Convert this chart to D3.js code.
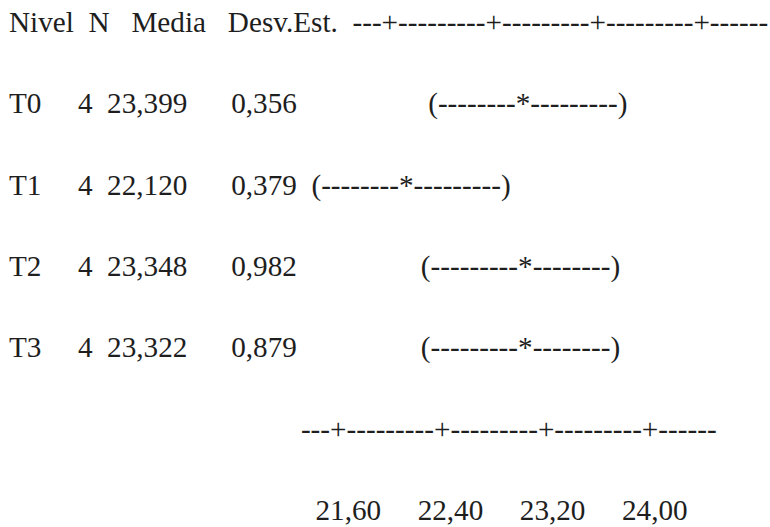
<!DOCTYPE html>
<html>
<head>
<meta charset="utf-8">
<script src="https://cdn.jsdelivr.net/npm/d3@7"></script>
<style>
  body { margin: 0; background: #fff; }
  text { white-space: pre; }
</style>
</head>
<body>
<div class="chart-container"></div>
<script>
const levels = ["T0", "T1", "T2", "T3"];
const counts = [4, 4, 4, 4];
const means = [23.399, 22.120, 23.348, 23.322];
const stdevs = [0.356, 0.379, 0.982, 0.879];
const tickValues = [21.60, 22.40, 23.20, 24.00];
const headers = ["Nivel", "N", "Media", "Desv.Est."];
const tCrit = 2.179; // t(0.975, 12 df) for the pooled interval

function draw(){
    const width = 770;
    const height = 527;
    const marginLeft = 9;
    const fontSize = 29.2;
    const axisCols = 40;

    // spanish decimal comma
    const es = d3.formatLocale({decimal: ",", thousands: ".", grouping: [3], currency: ["", " €"]});
    const f3 = es.format(".3f");
    const f2 = es.format(".2f");

    // character-column scale, like the text chart it comes from
    const col = d3.scaleLinear()
        .domain([tickValues[0], tickValues[tickValues.length - 1]])
        .range([3, 33]);
    const cell = v => Math.ceil(col(v) - 0.5);

    // line positions
    const lines = ["header", ...levels, "axis", "labels"];
    const y = d3.scalePoint()
        .domain(lines)
        .range([32, 520]);

    const pooled = Math.sqrt(d3.sum(stdevs, s => s * s) / stdevs.length);

    const tickCols = tickValues.map(cell);
    const axisStr = d3.range(axisCols).map(c => tickCols.includes(c) ? "+" : "-").join("");

    function ciString(i){
        const hw = tCrit * pooled / Math.sqrt(counts[i]);
        const lo = Math.max(0, cell(means[i] - hw));
        const hi = Math.min(axisCols - 1, cell(means[i] + hw));
        const mid = cell(means[i]);
        let s = "";
        for (let c = 0; c <= hi; c++){
            if (c < lo) s += " ";
            else if (c === lo) s += "(";
            else if (c === hi) s += ")";
            else if (c === mid) s += "*";
            else s += "-";
        }
        return s;
    }

    const rowText = levels.map((lv, i) =>
        lv + "     " + counts[i] + "  " + f3(means[i]) + "      " + f3(stdevs[i]) + "  " + ciString(i));

    const headerText = headers[0] + "  " + headers[1] + "   " + headers[2] + "   " + headers[3] + "  " + axisStr;

    const axisIndent = 40;
    let labelText = " ".repeat(axisIndent);
    let pos = 0;
    tickValues.forEach(v => {
        const start = cell(v) - 1;
        labelText += " ".repeat(Math.max(0, start - pos)) + f2(v);
        pos = start + f2(v).length;
    });

    const texts = [
        {key: "header", text: headerText},
        ...levels.map((lv, i) => ({key: lv, text: rowText[i]})),
        {key: "axis", text: " ".repeat(axisIndent) + axisStr},
        {key: "labels", text: labelText}
    ];

    const svg = d3.select(".chart-container").append("svg")
        .attr("width", width)
        .attr("height", height);

    svg.selectAll("text")
        .data(texts)
        .enter()
        .append("text")
        .attr("xml:space", "preserve")
        .attr("x", marginLeft)
        .attr("y", d => y(d.key))
        .attr("font-family", "'Liberation Serif', 'Times New Roman', serif")
        .attr("font-size", fontSize)
        .attr("fill", "#1e1e1e")
        .text(d => d.text);
}

draw();
</script>
</body>
</html>
